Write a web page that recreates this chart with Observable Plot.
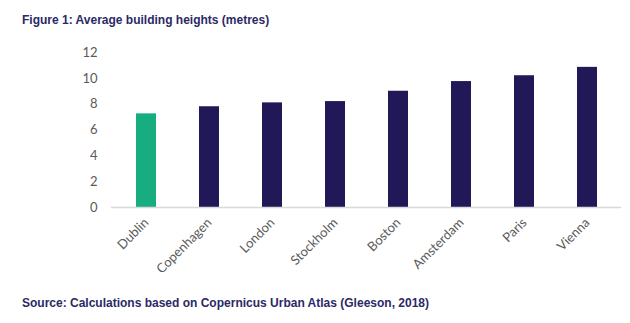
<!DOCTYPE html>
<html>
<head>
<meta charset="utf-8">
<script src="https://cdn.jsdelivr.net/npm/d3@7"></script>
<script src="https://cdn.jsdelivr.net/npm/@observablehq/plot@0.6"></script>
<style>
  html, body { margin: 0; padding: 0; background: #fff; }
  body { width: 630px; height: 323px; overflow: hidden; position: relative; }
  #title { position: absolute; left: 22px; top: 13px; font: bold 12px "Liberation Sans", Arial, sans-serif; color: #2b2966; white-space: nowrap; }
  #chart { position: absolute; left: 0; top: 30px; }
  #caption { position: absolute; left: 22px; top: 296px; font: bold 12px "Liberation Sans", Arial, sans-serif; color: #2b2966; white-space: nowrap; }
</style>
</head>
<body>
<div id="title">Figure 1: Average building heights (metres)</div>
<div id="chart"></div>
<div id="caption">Source: Calculations based on Copernicus Urban Atlas (Gleeson, 2018)</div>
<script>
const cities = ["Dublin", "Copenhagen", "London", "Stockholm", "Boston", "Amsterdam", "Paris", "Vienna"];
const heights = [7.25, 7.8, 8.1, 8.2, 9.0, 9.75, 10.2, 10.85];
const highlight = ["Dublin"];
const yTicks = [0, 2, 4, 6, 8, 10, 12];

const data = cities.map((c, i) => ({city: c, height: heights[i], hl: highlight.includes(c)}));

const plot = Plot.plot({
  width: 630,
  height: 260,
  marginTop: 22,
  marginBottom: 83,
  marginLeft: 111,
  marginRight: 9,
  style: {fontFamily: "Lato, 'Open Sans', sans-serif", fontSize: "13px", color: "#595959", background: "transparent"},
  x: {domain: cities, paddingInner: 0.69, paddingOuter: 0.345, label: null},
  y: {domain: [0, 12], ticks: yTicks, label: null},
  marks: [
    Plot.barY(data, {x: "city", y: "height", fill: d => d.hl ? "#17ad80" : "#211858"}),
    Plot.ruleY([0], {stroke: "#d9d9d9", strokeWidth: 1.5}),
    Plot.axisY({ticks: yTicks, tickSize: 0, tickPadding: 14, label: null, fontSize: 13, fill: "#595959"}),
    Plot.axisX({tickSize: 0, tickRotate: -45, tickPadding: 13, label: null, fontSize: 13, fill: "#595959"})
  ]
});
document.getElementById("chart").appendChild(plot);
</script>
</body>
</html>
